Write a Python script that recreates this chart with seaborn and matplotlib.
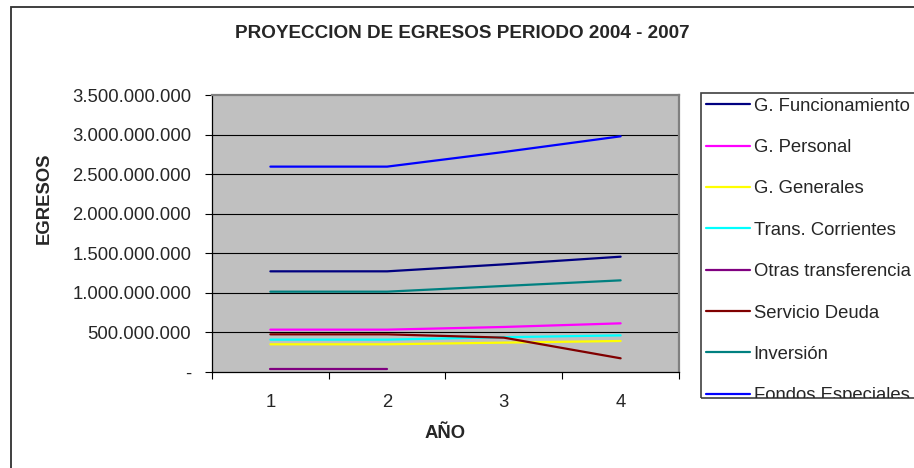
import numpy as np
import pandas as pd
import matplotlib
matplotlib.use("Agg")
import matplotlib.pyplot as plt
from matplotlib.ticker import FuncFormatter, FixedLocator
from matplotlib.patches import Rectangle
import seaborn as sns

# data
anios = [1, 2, 3, 4]
funcionamiento = [1.272e9, 1.272e9, 1.360e9, 1.457e9]
personal = [0.535e9, 0.535e9, 0.569e9, 0.615e9]
generales = [0.350e9, 0.350e9, 0.371e9, 0.392e9]
trans_corrientes = [0.409e9, 0.409e9, 0.440e9, 0.463e9]
otras_transf = [0.034e9, 0.034e9, np.nan, np.nan]
servicio_deuda = [0.476e9, 0.476e9, 0.434e9, 0.173e9]
inversion = [1.015e9, 1.015e9, 1.087e9, 1.158e9]
fondos_especiales = [2.595e9, 2.595e9, 2.780e9, 2.978e9]

series = {
    "G. Funcionamiento": funcionamiento,
    "G. Personal": personal,
    "G. Generales": generales,
    "Trans. Corrientes": trans_corrientes,
    "Otras transferencia": otras_transf,
    "Servicio Deuda": servicio_deuda,
    "Inversión": inversion,
    "Fondos Especiales": fondos_especiales,
}
colores = ["#000080", "#FF00FF", "#FFFF00", "#00FFFF",
           "#800080", "#800000", "#008080", "#0000FF"]

df = pd.DataFrame(
    [(a, nombre, v) for nombre, vals in series.items() for a, v in zip(anios, vals)],
    columns=["anio", "serie", "valor"],
)

sns.set_style("white")
plt.rcParams["font.family"] = ["Liberation Sans", "DejaVu Sans"]
FS = 13.3

W, H = 914, 468
fig = plt.figure(figsize=(W / 100, H / 100), dpi=100)
ax = fig.add_axes([212 / W, 1 - 372 / H, (679 - 212) / W, (372 - 95) / H])
ax.set_facecolor("#C0C0C0")

sns.lineplot(data=df, x="anio", y="valor", hue="serie", hue_order=list(series),
             palette=colores, linewidth=1.6, ax=ax, legend=True, zorder=3)

ax.set_xlim(0.5, 4.5)
ax.set_ylim(0, 3.5e9)
ax.yaxis.set_major_locator(FixedLocator(np.arange(0, 3.5e9 + 1, 5e8)))
ax.yaxis.set_major_formatter(FuncFormatter(
    lambda v, p: "-" if v == 0 else f"{int(v):,}".replace(",", ".")))
for y in np.arange(5e8, 3.5e9, 5e8):
    ax.axhline(y, color="black", lw=0.8, zorder=1)

# category labels centered, tick marks at boundaries
ax.xaxis.set_major_locator(FixedLocator(anios))
ax.xaxis.set_minor_locator(FixedLocator([0.5, 1.5, 2.5, 3.5, 4.5]))
ax.tick_params(axis="x", which="major", length=0, pad=16, labelsize=FS)
ax.tick_params(axis="x", which="minor", length=5, width=0.8, color="black", direction="out")
ax.tick_params(axis="y", length=5, width=0.8, color="black", direction="out",
               pad=10, labelsize=FS)
ax.tick_params(bottom=True, left=True, which="both")

for s in ["top", "right"]:
    ax.spines[s].set_color("#808080")
    ax.spines[s].set_linewidth(1.6)
for s in ["left", "bottom"]:
    ax.spines[s].set_color("black")
    ax.spines[s].set_linewidth(0.9)

ax.set_xlabel("AÑO", fontsize=FS, fontweight="bold", labelpad=10)
ax.set_ylabel("EGRESOS", fontsize=FS, fontweight="bold")
# the original label sits above the axis centre
ax.yaxis.set_label_coords((53 - 212) / 467, (372 - 198) / 277)

fig.text(462 / W, 1 - 33 / H, "PROYECCION DE EGRESOS PERIODO 2004 - 2007",
         ha="center", va="center", fontsize=13.6, fontweight="bold")

# legend box, clipped like the original
box_l, box_t, box_b = 701, 93, 398
box = Rectangle((box_l / W, 1 - box_b / H), 1.0, (box_b - box_t) / H,
                transform=fig.transFigure, fill=False, ec="#404040", lw=1.2)
fig.patches.append(box)

handles, labels = ax.get_legend_handles_labels()
ax.get_legend().remove()
leg = fig.legend(handles, labels, loc="upper left",
                 bbox_to_anchor=(box_l / W, 1 - box_t / H), bbox_transform=fig.transFigure,
                 frameon=False, fontsize=FS, borderaxespad=0, borderpad=0.25,
                 handlelength=2.4, handletextpad=0.2, labelspacing=1.32)
for ln in leg.get_lines():
    ln.set_linewidth(1.6)
fig.canvas.draw()
clip = box.get_window_extent()
for a in leg.get_texts() + leg.get_lines():
    a.set_clip_box(clip)
    a.set_clip_on(True)

# outer chart frame (runs off the right and bottom edges)
fig.patches.append(Rectangle((11 / W, -0.1), 1.0, 1.1 - 7 / H,
                             transform=fig.transFigure, fill=False, ec="#303030", lw=1.3))

fig.savefig("out.png", dpi=100)
